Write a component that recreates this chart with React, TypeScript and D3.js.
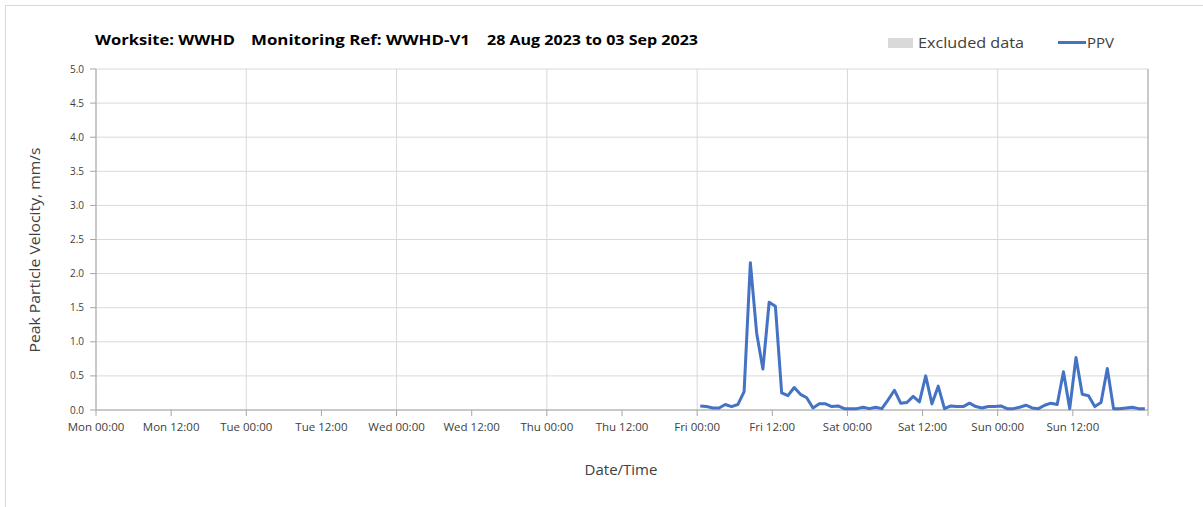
import React from "react";
import * as d3 from "d3";

// ---- Data ----
const titleParts = ["Worksite: WWHD", "Monitoring Ref: WWHD-V1", "28 Aug 2023 to 03 Sep 2023"];
const axisStart = "2023-08-28T00:00:00";
const axisEnd = "2023-09-04T00:00:00";
const seriesStart = "2023-09-01T00:30:00"; // hourly readings
const ppvValues = [
  0.06, 0.05, 0.03, 0.03, 0.08, 0.05, 0.08, 0.27, 2.16, 1.13, 0.6, 1.58,
  1.52, 0.25, 0.21, 0.33, 0.23, 0.18, 0.03, 0.09, 0.09, 0.05, 0.06, 0.02,
  0.02, 0.02, 0.04, 0.02, 0.04, 0.02, 0.15, 0.29, 0.1, 0.11, 0.2, 0.12,
  0.5, 0.09, 0.35, 0.02, 0.06, 0.05, 0.05, 0.1, 0.05, 0.03, 0.05, 0.05,
  0.06, 0.02, 0.02, 0.04, 0.07, 0.03, 0.02, 0.07, 0.1, 0.08, 0.56, 0.02,
  0.77, 0.23, 0.21, 0.05, 0.11, 0.61, 0.02, 0.02, 0.03, 0.04, 0.02, 0.02,
];
const yTicks = [0, 0.5, 1, 1.5, 2, 2.5, 3, 3.5, 4, 4.5, 5];
const dayNames = ["Mon", "Tue", "Wed", "Thu", "Fri", "Sat", "Sun"];
const yLabel = "Peak Particle Velocity, mm/s";
const xLabel = "Date/Time";
const legendLabels = ["Excluded data", "PPV"];

const W = 1203;
const H = 507;
const FONT = "'Open Sans', 'Noto Sans', sans-serif";

export default function App() {
  const left = 96, right = 1148, top = 69, bottom = 410;
  const x = d3.scaleTime().domain([new Date(axisStart), new Date(axisEnd)]).range([left, right]);
  const y = d3.scaleLinear().domain([0, 5]).range([bottom, top]);

  const t0 = new Date(seriesStart).getTime();
  const data = ppvValues.map((v, i) => ({ t: new Date(t0 + i * 3600 * 1000), v }));
  const line = d3.line<{ t: Date; v: number }>().x((d) => x(d.t)).y((d) => y(d.v));

  const allDays = d3.timeDay.range(new Date(axisStart), new Date("2023-09-04T00:00:01"));
  const halfTicks = d3.timeHour.every(12)!.range(new Date(axisStart), new Date(axisEnd));
  const fmtLabel = (d: Date) => {
    const dn = dayNames[(d.getDay() + 6) % 7];
    return `${dn} ${d3.timeFormat("%H:%M")(d)}`;
  };

  const grid = "#d9d9d9";
  const axisCol = "#a6a6a6";
  const txt = "#404040";

  return (
    <svg width={W} height={H} style={{ position: "absolute", left: 0, top: 0, background: "#fff" }}>
      <rect x={5.5} y={5.5} width={W} height={H + 10} fill="#fff" stroke="#d9d9d9" />
      {/* title */}
      <g fontFamily={FONT} fontWeight="bold" fontSize={15} fill="#000">
        <text x={95} y={45} textLength={140} lengthAdjust="spacingAndGlyphs">{titleParts[0]}</text>
        <text x={251} y={45} textLength={219} lengthAdjust="spacingAndGlyphs">{titleParts[1]}</text>
        <text x={487} y={45} textLength={211} lengthAdjust="spacingAndGlyphs">{titleParts[2]}</text>
      </g>
      {/* legend */}
      <rect x={888} y={38} width={25} height={10} fill="#d9d9d9" />
      <text x={918} y={48} fontFamily={FONT} fontSize={15} fill={txt} textLength={106} lengthAdjust="spacingAndGlyphs">{legendLabels[0]}</text>
      <line x1={1058} x2={1086} y1={42.5} y2={42.5} stroke="#4472C4" strokeWidth={3} />
      <text x={1087} y={48} fontFamily={FONT} fontSize={15} fill={txt}>{legendLabels[1]}</text>

      {/* horizontal grid */}
      {yTicks.map((t) => (
        <line key={"h" + t} x1={left} x2={right} y1={y(t)} y2={y(t)} stroke={grid} strokeWidth={1} />
      ))}
      {/* vertical grid */}
      {allDays.map((d, i) => (
        <line key={"v" + i} x1={x(d)} x2={x(d)} y1={top} y2={bottom} stroke={grid} strokeWidth={1} />
      ))}
      {/* axes */}
      <line x1={left} x2={left} y1={top} y2={bottom} stroke={axisCol} />
      <line x1={right} x2={right} y1={top} y2={bottom} stroke={axisCol} />
      <line x1={left} x2={right} y1={bottom} y2={bottom} stroke={axisCol} />
      {yTicks.map((t) => (
        <g key={"yt" + t}>
          <line x1={left - 6} x2={left} y1={y(t)} y2={y(t)} stroke={axisCol} />
          <text x={84} y={y(t) + 3.5} textAnchor="end" fontFamily={FONT} fontSize={10} fill={txt}>
            {t.toFixed(1)}
          </text>
        </g>
      ))}
      {halfTicks.concat([new Date(axisEnd)]).map((d, i) => (
        <line key={"xt" + i} x1={x(d)} x2={x(d)} y1={bottom} y2={bottom + 6} stroke={axisCol} />
      ))}
      {halfTicks.map((d, i) => (
        <text key={"xl" + i} x={x(d)} y={431} textAnchor="middle" fontFamily={FONT} fontSize={11.5} fill={txt}>
          {fmtLabel(d)}
        </text>
      ))}
      {/* axis titles */}
      <text
        transform={`translate(40,250) rotate(-90)`}
        textAnchor="middle"
        fontFamily={FONT}
        fontSize={15}
        fill={txt}
        textLength={205}
        lengthAdjust="spacingAndGlyphs"
      >
        {yLabel}
      </text>
      <text x={621} y={475} textAnchor="middle" fontFamily={FONT} fontSize={15} fill={txt}>
        {xLabel}
      </text>
      {/* series */}
      <path d={line(data) || ""} fill="none" stroke="#4472C4" strokeWidth={3} strokeLinejoin="round" />
    </svg>
  );
}
